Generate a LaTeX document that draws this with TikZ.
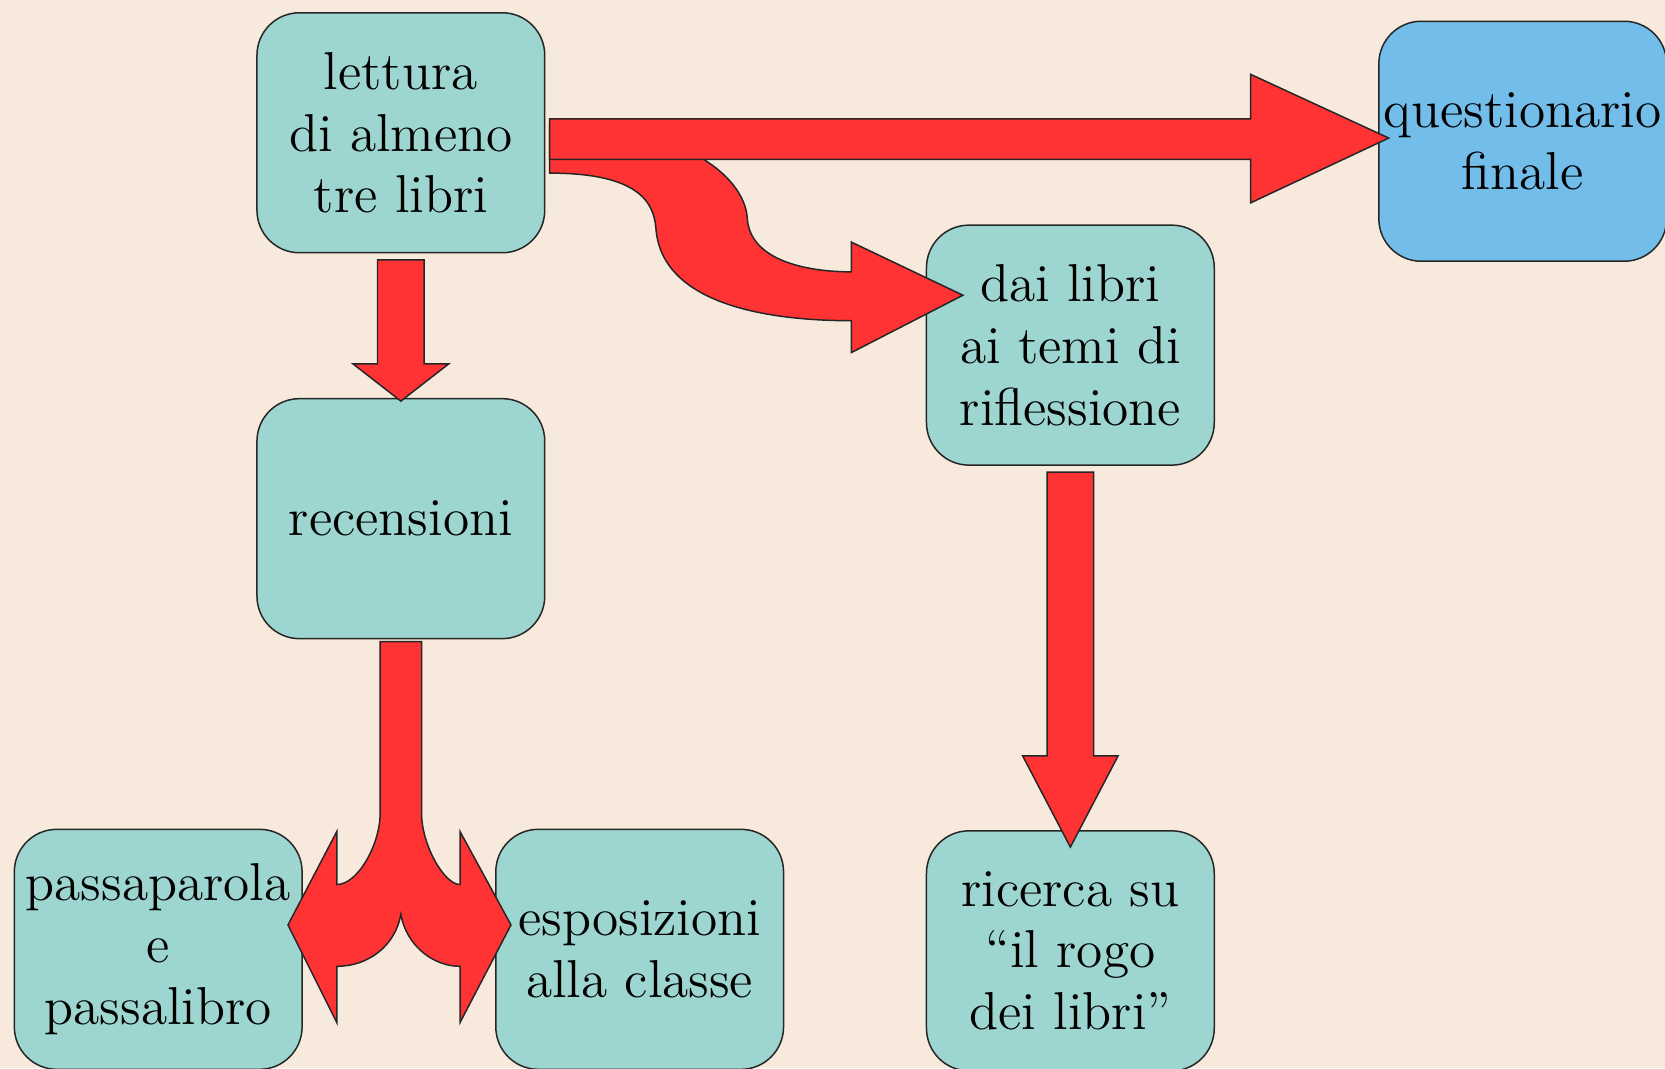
\documentclass[tikz,border=0pt]{standalone}
\usepackage{fontspec}
\usepackage{tikz}
\usetikzlibrary{calc,positioning}
\definecolor{bgcream}{RGB}{247,234,221}
\definecolor{boxteal}{RGB}{157,213,208}
\definecolor{boxblue}{RGB}{115,189,234}
\definecolor{arrowred}{RGB}{255,51,51}
\tikzstyle{box}=[draw=black!85,fill=boxteal,rounded corners=0.4cm,minimum width=2.71cm,minimum height=2.26cm,inner sep=0pt,align=center,font=\fontsize{14.3}{16.6}\selectfont]
\tikzstyle{final}=[box,fill=boxblue]
\tikzstyle{redarrow}=[draw=black!85,fill=arrowred,line width=0.4pt,line join=miter]

% straight block arrow pointing down, #3 = head base, #4 = tip depth
\newcommand{\blockdown}[4]{%
  \filldraw[redarrow] let \p1=(#1.south), \p2=(#2.north) in
    (\x2-0.22cm,\y1-0.06cm) -- (\x2+0.22cm,\y1-0.06cm) -- (\x2+0.22cm,\y2+#3) -- (\x2+0.45cm,\y2+#3)
    -- (\x2,\y2-#4) -- (\x2-0.45cm,\y2+#3) -- (\x2-0.22cm,\y2+#3) -- cycle;}

\begin{document}
\begin{tikzpicture}
  \fill[bgcream] (0,0) rectangle (15.68,-10.06);
  \useasboundingbox (0,0) rectangle (15.68,-10.06);

  \node[box]   (lettura) at (3.775,-1.25)   {lettura\\di almeno\\tre libri};
  \node[box]   (recens)  [below=1.36cm of lettura] {recensioni};
  \node[box]   (passa)   at (1.49,-8.94)    {passaparola\\e\\passalibro};
  \node[box]   (espo)    [right=1.81cm of passa] {esposizioni\\alla classe};
  \node[box]   (dai)     at (10.08,-3.25)   {dai libri\\ai temi di\\riflessione};
  \node[box]   (ricerca) [below=3.43cm of dai] {ricerca su\\“il rogo\\dei libri”};
  \node[final] (quest)   at (14.34,-1.33)   {questionario\\finale};

  % curved arrow to dai
  \filldraw[redarrow] let \p1=(lettura.east), \p2=(dai.west) in
    (\x1+0.04cm,\y1+0.08cm) .. controls (\x1+1.27cm,\y1+0.08cm) and (\x1+1.87cm,\y1-0.40cm) .. (\x1+1.90cm,\y1-0.80cm)
    .. controls (\x1+1.92cm,\y1-1.20cm) and (\x2-1.13cm,\y2+0.69cm) .. (\x2-0.70cm,\y2+0.69cm)
    -- (\x2-0.70cm,\y2+0.97cm) -- (\x2+0.35cm,\y2+0.47cm) -- (\x2-0.70cm,\y2-0.07cm) -- (\x2-0.70cm,\y2+0.23cm)
    .. controls (\x2-1.53cm,\y2+0.23cm) and (\x1+1.09cm,\y1-1.60cm) .. (\x1+1.04cm,\y1-0.90cm)
    .. controls (\x1+1.02cm,\y1-0.65cm) and (\x1+0.87cm,\y1-0.38cm) .. (\x1+0.04cm,\y1-0.38cm) -- cycle;

  % straight arrow to questionario
  \filldraw[redarrow] let \p1=(lettura.east), \p2=(quest.west) in
    (\x1+0.04cm,\y2+0.21cm) -- (\x2-1.20cm,\y2+0.21cm) -- (\x2-1.20cm,\y2+0.63cm) -- (\x2+0.10cm,\y2+0.03cm)
    -- (\x2-1.20cm,\y2-0.58cm) -- (\x2-1.20cm,\y2-0.17cm) -- (\x1+0.04cm,\y2-0.17cm) -- cycle;

  \blockdown{lettura}{recens}{0.32cm}{0.03cm}
  \blockdown{dai}{ricerca}{0.70cm}{0.16cm}

  % split arrow
  \filldraw[redarrow] let \p1=(recens.south), \p2=(passa.east), \p3=(espo.west) in
    (\x1-0.195cm,\y1-0.02cm) -- (\x1-0.195cm,\y2+1.28cm)
    .. controls (\x1-0.195cm,\y2+0.99cm) and (\x1-0.405cm,\y2+0.61cm) .. (\x2+0.32cm,\y2+0.61cm)
    -- (\x2+0.32cm,\y2+1.11cm) -- (\x2-0.14cm,\y2+0.23cm) -- (\x2+0.32cm,\y2-0.69cm) -- (\x2+0.32cm,\y2-0.16cm)
    .. controls (\x1-0.30cm,\y2-0.16cm) and (\x1-0.05cm,\y2+0.04cm) .. (\x1,\y2+0.33cm)
    .. controls (\x1+0.05cm,\y3+0.04cm) and (\x1+0.30cm,\y3-0.16cm) .. (\x3-0.33cm,\y3-0.16cm)
    -- (\x3-0.33cm,\y3-0.69cm) -- (\x3+0.15cm,\y3+0.23cm) -- (\x3-0.33cm,\y3+1.11cm) -- (\x3-0.33cm,\y3+0.61cm)
    .. controls (\x1+0.405cm,\y3+0.61cm) and (\x1+0.195cm,\y3+0.99cm) .. (\x1+0.195cm,\y3+1.28cm)
    -- (\x1+0.195cm,\y1-0.02cm) -- cycle;
\end{tikzpicture}
\end{document}
